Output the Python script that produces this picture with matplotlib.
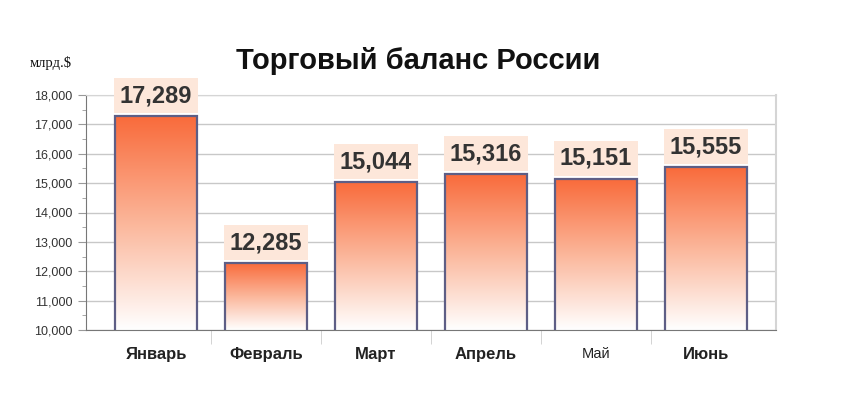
import numpy as np
import matplotlib.pyplot as plt
from matplotlib.colors import LinearSegmentedColormap

plt.rcParams["font.family"] = ["Liberation Sans", "DejaVu Sans"]

# data
months = ["Январь", "Февраль", "Март", "Апрель", "Май", "Июнь"]
balance = [17289, 12285, 15044, 15316, 15151, 15555]
y_ticks = [10000, 11000, 12000, 13000, 14000, 15000, 16000, 17000, 18000]

fig = plt.figure(figsize=(8.41, 3.95), dpi=100)
ax = fig.add_axes([86 / 841, 65 / 395, 690 / 841, 235 / 395])

x = np.arange(len(months))
width = 0.745

ax.set_yticks(y_ticks)
ax.set_yticklabels([f"{v:,}" for v in y_ticks])
ax.set_yticks(np.arange(10500, 18000, 1000), minor=True)
ax.grid(axis="y", which="major", color="#c8c8c8", linewidth=1)
ax.set_axisbelow(True)

cmap = LinearSegmentedColormap.from_list("bar", ["#ffffff", "#fbb69a", "#f96a3a"])
grad = np.linspace(0, 1, 256).reshape(-1, 1)

bars = ax.bar(x, balance, width=width, bottom=0, color="none",
              edgecolor="#5e5e85", linewidth=1.6, zorder=3)
for b, v in zip(bars, balance):
    x0 = b.get_x()
    im = ax.imshow(grad, cmap=cmap, origin="lower", aspect="auto",
                   extent=[x0, x0 + width, 10000, v], zorder=2)
    im.set_clip_path(b)
    ax.text(x0 + width / 2, v + 300, f"{v:,}", ha="center", va="bottom",
            fontsize=17, fontweight="bold", color="#333333", zorder=4,
            bbox=dict(boxstyle="square,pad=0.25", fc="#fde7da", ec="none"))
ax.set_xlim(-0.5 - 15 / 110, len(months) - 0.5 + 15 / 110)
ax.set_ylim(10000, 18000)

ax.set_xticks(x)
ax.set_xticklabels(months)
for lbl, m in zip(ax.get_xticklabels(), months):
    if m == "Май":
        lbl.set_fontsize(10.5)
    else:
        lbl.set_fontweight("bold")
        lbl.set_fontsize(12)
ax.set_xticks(np.arange(0.5, len(months) - 1, 1), minor=True)
ax.tick_params(axis="x", which="major", length=0, pad=12, colors="#222222")
ax.tick_params(axis="x", which="minor", length=10, color="#cccccc")
ax.tick_params(axis="y", which="major", length=6, color="#999999",
               labelsize=9, labelcolor="#333333")
ax.tick_params(axis="y", which="minor", length=3, color="#999999")

for s in ["left", "bottom"]:
    ax.spines[s].set_color("#777777")
for s in ["right", "top"]:
    ax.spines[s].set_color("#d5d5d5")
ax.spines["right"].set_linewidth(1.5)

fig.text(0.497, 0.845, "Торговый баланс России", ha="center", va="center",
         fontsize=21, fontweight="bold", color="#111111")
fig.text(30 / 841, 0.84, "млрд.$", family="Liberation Serif", fontsize=10.5,
         ha="left", va="center", color="#111111")

fig.savefig("out.png", dpi=100)
